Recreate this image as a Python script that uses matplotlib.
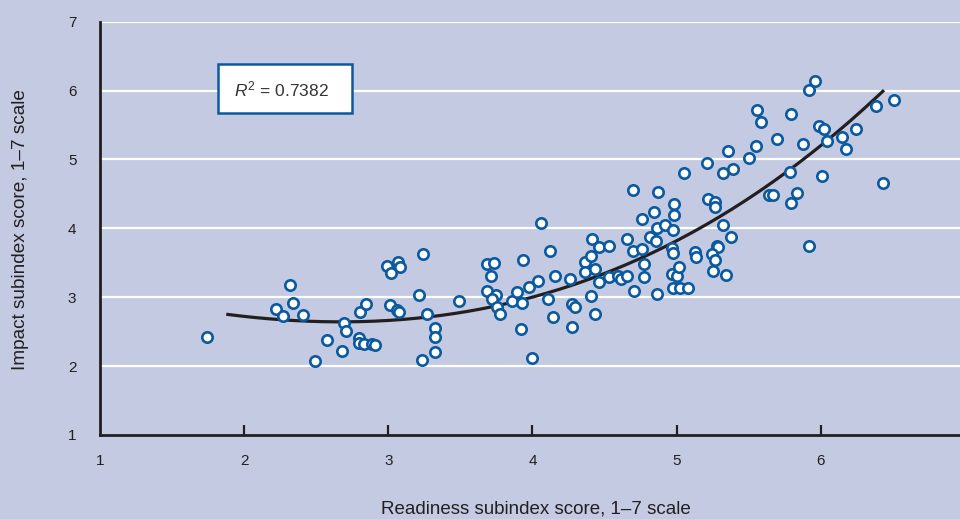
import numpy as np
import matplotlib
matplotlib.use("Agg")
import matplotlib.pyplot as plt

# ============================================================
# DATA
# ============================================================

readiness = [
    1.742, 2.221, 2.272, 2.320, 2.337, 2.408, 2.494, 2.573, 2.677, 2.695,
    2.705, 2.795, 2.799, 2.834, 2.804, 2.845, 2.890, 2.910, 2.989, 3.019,
    3.069, 3.081, 3.010, 3.060, 3.075, 3.215, 3.243, 3.266, 3.326, 3.324,
    3.324, 3.236, 3.488,
    3.682, 3.733, 3.715, 3.932, 3.682, 3.747, 3.719, 3.756, 3.775, 3.856,
    3.893, 3.928, 3.978, 4.036, 3.918, 3.995, 4.060, 4.122, 4.154, 4.110,
    4.140, 4.272, 4.274, 4.295, 4.260, 4.362, 4.364, 4.406, 4.411, 4.434,
    4.459, 4.464, 4.529, 4.406, 4.434, 4.529, 4.596, 4.612, 4.658, 4.654,
    4.695, 4.704, 4.700, 4.762, 4.762, 4.776, 4.776, 4.815, 4.843, 4.873,
    4.862, 4.857, 4.920, 4.866, 4.973, 4.982, 4.982, 4.968, 4.977, 4.966,
    5.001, 5.019, 4.977, 5.023, 5.077, 5.051, 5.125, 5.132,
    5.209, 5.216, 5.266, 5.266, 5.324, 5.375, 5.278, 5.290, 5.243, 5.266,
    5.255, 5.341, 5.324, 5.394, 5.355, 5.502, 5.556, 5.583, 5.551, 5.699,
    5.796, 5.916, 5.958, 5.990, 6.022, 5.875, 6.041, 6.145, 6.173, 6.246,
    6.381, 6.510, 6.430, 6.011, 5.787, 5.643, 5.671, 5.833, 5.796, 5.916,
]

impact = [
    2.420, 2.824, 2.727, 3.177, 2.911, 2.737, 2.070, 2.383, 2.219, 2.630,
    2.505, 2.403, 2.331, 2.325, 2.785, 2.897, 2.320, 2.310, 3.449, 3.347,
    3.515, 3.443, 2.882, 2.810, 2.780, 3.036, 3.623, 2.756, 2.553, 2.427,
    2.205, 2.093, 2.945,
    3.477, 3.492, 3.312, 3.536, 3.090, 3.028, 2.974, 2.862, 2.752, 2.940,
    3.080, 2.911, 3.148, 3.231, 2.538, 2.122, 4.077, 3.675, 3.308, 2.974,
    2.717, 2.572, 2.901, 2.862, 3.260, 3.507, 3.370, 3.603, 3.840, 3.405,
    3.225, 3.724, 3.743, 3.022, 2.761, 3.298, 3.312, 3.260, 3.303, 3.840,
    4.560, 3.094, 3.675, 3.695, 4.135, 3.482, 3.289, 3.878, 4.232, 4.522,
    4.000, 3.816, 4.052, 3.042, 3.975, 4.358, 4.188, 3.710, 3.637, 3.337,
    3.308, 3.443, 3.129, 3.129, 3.129, 4.807, 3.660, 3.588,
    4.943, 4.425, 4.386, 4.313, 4.052, 3.878, 3.747, 3.730, 3.630, 3.540,
    3.385, 3.318, 4.810, 4.865, 5.122, 5.016, 5.717, 5.543, 5.194, 5.292,
    5.659, 6.003, 6.134, 5.480, 5.441, 5.219, 5.263, 5.321, 5.146, 5.437,
    5.780, 5.862, 4.653, 4.763, 4.817, 4.490, 4.483, 4.512, 4.363, 3.743,
]

# positions along the trend line as drawn in the reference
trend_x = [1.876, 2.665, 3.635, 3.983, 4.742, 5.024, 5.232, 5.436, 5.787, 6.439]
trend_y = [2.763, 2.618, 2.830, 3.007, 3.573, 3.830, 4.120, 4.310, 4.846, 6.017]

r2_label = "0.7382"
x_ticks = [1, 2, 3, 4, 5, 6]
y_ticks = [1, 2, 3, 4, 5, 6, 7]

# ============================================================
# STYLE
# ============================================================

BG = "#C3CAE2"
BLUE = "#0B5AA0"
DARK = "#231F20"
TEXT = "#231F20"

plt.rcParams["font.family"] = ["Liberation Sans Narrow", "Liberation Sans", "DejaVu Sans"]
plt.rcParams["mathtext.fontset"] = "custom"
plt.rcParams["mathtext.rm"] = "Liberation Sans"
plt.rcParams["mathtext.it"] = "Liberation Sans:italic"

fig = plt.figure(figsize=(9.6, 5.19), dpi=100, facecolor=BG)
ax = fig.add_axes([100 / 960, 84 / 519, 860 / 960, 413.3 / 519])
ax.set_facecolor(BG)

ax.set_xlim(1, 1 + 860 / 144.15)
ax.set_ylim(1, 7)

# white horizontal gridlines
for yv in y_ticks[1:]:
    ax.axhline(yv, color="white", lw=1.6, zorder=1)

# polynomial trend line (smoothed through the read positions)
coef = np.polyfit(trend_x, trend_y, 3)
xs = np.linspace(min(trend_x), max(trend_x), 200)
ax.plot(xs, np.polyval(coef, xs), color=DARK, lw=2.3, zorder=2, solid_capstyle="butt")

ax.scatter(readiness, impact, s=56, facecolor="white", edgecolor=BLUE,
           linewidth=1.9, zorder=3)

for side in ["top", "right"]:
    ax.spines[side].set_visible(False)
for side in ["left", "bottom"]:
    ax.spines[side].set_color(DARK)
    ax.spines[side].set_linewidth(2.0)

ax.set_xticks(x_ticks)
ax.set_yticks(y_ticks)
ax.tick_params(axis="x", direction="in", length=7, width=1.6, color=DARK,
               pad=14, labelsize=11, labelcolor=TEXT)
ax.tick_params(axis="y", length=0, pad=17, labelsize=11, labelcolor=TEXT)
ax.xaxis.get_majorticklines()[0].set_visible(False)
ax.xaxis.get_majorticklines()[1].set_visible(False)

fig.text(21 / 960, 1 - 230 / 519, "Impact subindex score, 1\u20137 scale",
         rotation=90, ha="center", va="center", fontsize=13.7, color=TEXT)
fig.text(536 / 960, 1 - 509 / 519, "Readiness subindex score, 1\u20137 scale",
         ha="center", va="center", fontsize=13.5, color=TEXT)

# R squared box
box = plt.Rectangle((218 / 960, 1 - 112.5 / 519), 134 / 960, 48.5 / 519,
                    transform=fig.transFigure, facecolor="white",
                    edgecolor=BLUE, lw=1.8, zorder=5)
fig.patches.append(box)
fig.text(281 / 960, 1 - 89 / 519, r"$R^2$ = " + r2_label, ha="center", va="center",
         fontsize=12.5, color="#333333", zorder=6)

fig.savefig("out.png", dpi=100, facecolor=BG)
